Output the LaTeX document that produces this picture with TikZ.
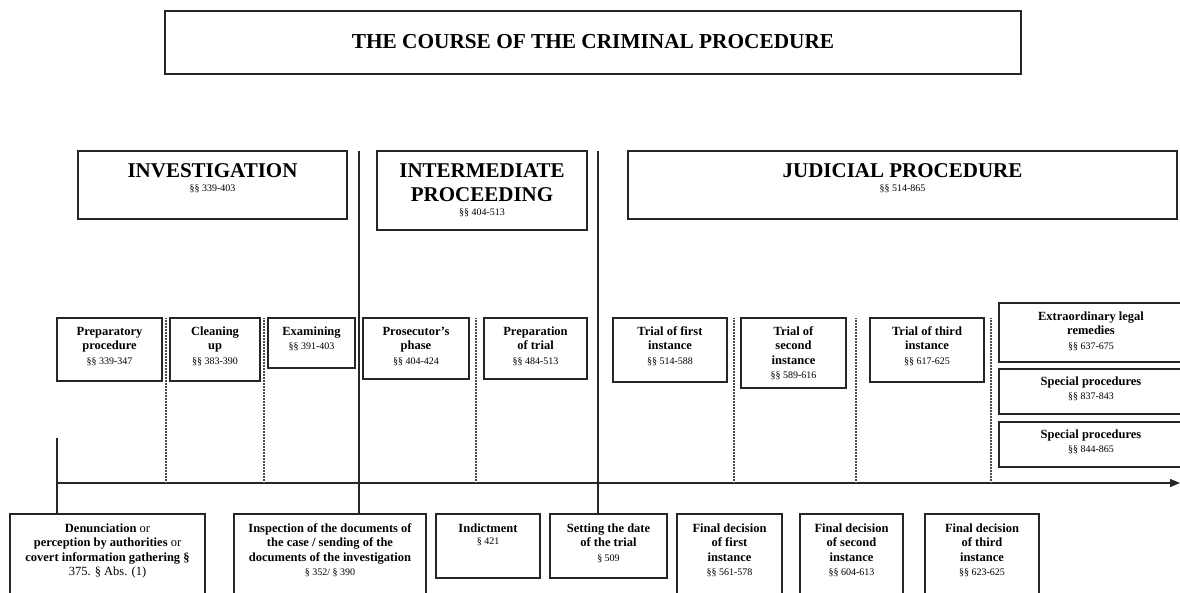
\documentclass[tikz,border=0pt]{standalone}
\usepackage{fontspec}
\setmainfont{Liberation Serif}
\usetikzlibrary{arrows.meta}
\tikzset{
  box/.style={draw=black!85, line width=1.4pt, inner sep=0pt},
  boxtext/.style={anchor=north, align=center, inner sep=0pt, font=\fontsize{12.5}{14.3}\selectfont\bfseries},
  headtext/.style={anchor=north, align=center, inner sep=0pt, font=\fontsize{21}{24}\selectfont\bfseries},
  titletext/.style={anchor=north, align=center, inner sep=0pt, font=\fontsize{21.3}{24}\selectfont\bfseries},
  solidline/.style={draw=black!85, line width=1.3pt},
  dotline/.style={draw=black!70, line width=1.1pt, dash pattern=on 0.6pt off 0.9pt},
  timeline/.style={draw=black!85, line width=1.4pt, -{Triangle[length=10pt,width=8pt]}},
}
\newcommand{\sect}[1]{{\fontsize{10}{12}\selectfont\mdseries #1}}
\newcommand{\orr}{{\mdseries or}}
% name, x1, y1, x2, y2, first baseline offset, text style, text
\newcommand{\mybox}[8]{%
  \node[box, minimum width={(#4-#2)*1pt}, minimum height={(#5-#3)*1pt}] (#1) at ({(#2+#4)/2},{(#3+#5)/2}) {};
  \node[#7] (#1-t) at ([yshift={(20-#6)*1pt}]#1.north) {\rule{0pt}{20pt}#8};}
\begin{document}
\begin{tikzpicture}[x=1pt,y=-1pt]
\useasboundingbox (0,0) rectangle (1180,592);
\clip (0,0) rectangle (1180,592);
\fill[white] (0,0) rectangle (1180,592);
% title
\mybox{title}{165}{11}{1021}{74}{38}{titletext}{THE COURSE OF THE CRIMINAL PROCEDURE}
% phases
\mybox{inv}{78}{151}{347}{219}{27}{headtext}{INVESTIGATION\\[-10pt]\sect{§§ 339-403}}
\mybox{int}{377}{151}{587}{230}{27}{headtext}{INTERMEDIATE\\PROCEEDING\\[-10pt]\sect{§§ 404-513}}
\mybox{jud}{628}{151}{1177}{219}{27}{headtext}{JUDICIAL PROCEDURE\\[-10pt]\sect{§§ 514-865}}
% middle row
\mybox{prep}{57}{318}{162}{381}{18}{boxtext}{Preparatory\\procedure\\\sect{§§ 339-347}}
\mybox{clean}{170}{318}{260}{381}{18}{boxtext}{Cleaning\\up\\\sect{§§ 383-390}}
\mybox{exam}{268}{318}{355}{368}{18}{boxtext}{Examining\\\sect{§§ 391-403}}
\mybox{pros}{363}{318}{469}{379}{18}{boxtext}{Prosecutor’s\\phase\\\sect{§§ 404-424}}
\mybox{prept}{484}{318}{587}{379}{18}{boxtext}{Preparation\\of trial\\\sect{§§ 484-513}}
\mybox{tr1}{613}{318}{727}{382}{18}{boxtext}{Trial of first\\instance\\\sect{§§ 514-588}}
\mybox{tr2}{741}{318}{846}{388}{18}{boxtext}{Trial of\\second\\instance\\\sect{§§ 589-616}}
\mybox{tr3}{870}{318}{984}{382}{18}{boxtext}{Trial of third\\instance\\\sect{§§ 617-625}}
\mybox{extra}{999}{303}{1183}{362}{18}{boxtext}{Extraordinary legal\\remedies\\\sect{§§ 637-675}}
\mybox{sp1}{999}{369}{1183}{414}{17}{boxtext}{Special procedures\\\sect{§§ 837-843}}
\mybox{sp2}{999}{422}{1183}{467}{17}{boxtext}{Special procedures\\\sect{§§ 844-865}}
% bottom row
\mybox{den}{10}{514}{205}{600}{19}{boxtext}{Denunciation \orr\\perception by authorities \orr\\covert information gathering §\\\mdseries 375. § Abs. (1)}
\mybox{insp}{234}{514}{426}{600}{19}{boxtext}{Inspection of the documents of\\the case / sending of the\\documents of the investigation\\\sect{§ 352/ § 390}}
\mybox{ind}{436}{514}{540}{578}{19}{boxtext}{Indictment\\[-2pt]\sect{§ 421}}
\mybox{set}{550}{514}{667}{578}{19}{boxtext}{Setting the date\\of the trial\\\sect{§ 509}}
\mybox{fd1}{677}{514}{782}{600}{19}{boxtext}{Final decision\\of first\\instance\\\sect{§§ 561-578}}
\mybox{fd2}{800}{514}{903}{600}{19}{boxtext}{Final decision\\of second\\instance\\\sect{§§ 604-613}}
\mybox{fd3}{925}{514}{1039}{600}{19}{boxtext}{Final decision\\of third\\instance\\\sect{§§ 623-625}}
% timeline and separators
\coordinate (tl0) at (57,483);
\coordinate (tl1) at (1180,483);
\draw[timeline] (tl0) -- (tl1);
\coordinate (lt) at (57,438);
\draw[solidline] (lt) -- (lt |- den.north);
\coordinate (v1) at (359,151);
\draw[solidline] (v1) -- (v1 |- insp.north);
\coordinate (v2) at (598,151);
\draw[solidline] (v2) -- (v2 |- set.north);
\foreach \x [count=\i] in {166,264,476,734,856,991} {
  \coordinate (d\i) at (\x,318);
  \draw[dotline] (d\i) -- (d\i |- tl0);
}
\end{tikzpicture}
\end{document}
